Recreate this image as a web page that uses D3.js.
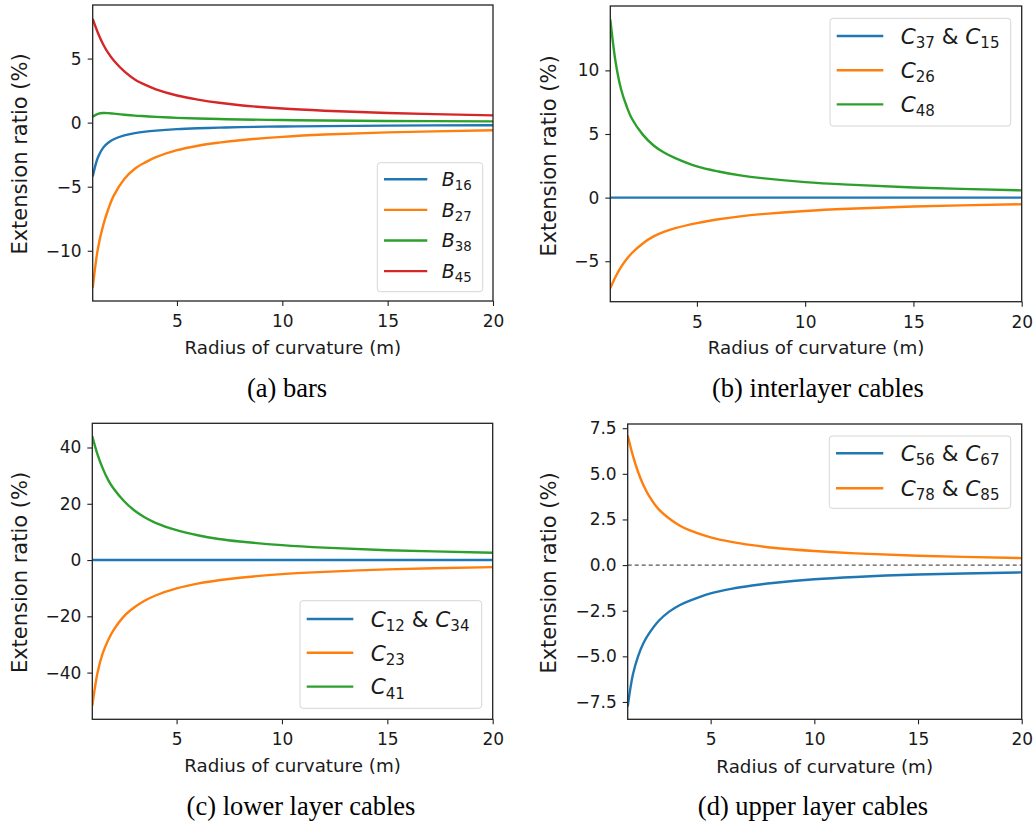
<!DOCTYPE html>
<html><head><meta charset="utf-8">
<script src="https://cdn.jsdelivr.net/npm/d3@7/dist/d3.min.js"></script>
<style>
body{margin:0;background:#fff;}
svg{display:block;}
text{font-family:"DejaVu Sans",sans-serif;fill:#1a1a1a;}
text.cap{font-family:"Liberation Serif","Times New Roman",serif;fill:#000;}
</style></head>
<body>
<svg id="chart" width="1036" height="826"></svg>
<script>
// ---- data ----
const radius = [1, 1.25, 1.5, 1.75, 2, 2.5, 3, 3.5, 4, 5, 6, 7, 8, 10, 12, 15, 20];

// (a) bars
const B16 = [-4.2, -2.7, -1.95, -1.55, -1.3, -1.0, -0.82, -0.7, -0.62, -0.51, -0.44, -0.39, -0.35, -0.3, -0.27, -0.23, -0.2];
const B27 = [-12.9, -9.8, -8.0, -6.7, -5.7, -4.4, -3.6, -3.1, -2.7, -2.15, -1.8, -1.56, -1.37, -1.11, -0.93, -0.76, -0.6];
const B38 = [0.45, 0.68, 0.75, 0.74, 0.7, 0.62, 0.55, 0.5, 0.45, 0.37, 0.32, 0.28, 0.25, 0.2, 0.17, 0.13, 0.1];
const B45 = [8.1, 7.0, 6.1, 5.4, 4.85, 4.0, 3.37, 2.94, 2.6, 2.12, 1.8, 1.55, 1.36, 1.1, 0.93, 0.75, 0.57];

// (b) interlayer cables
const C37_C15 = [0, 0, 0, 0, 0, 0, 0, 0, 0, 0, 0, 0, 0, 0, 0, 0, 0];
const C26 = [-7.12, -6.2, -5.45, -4.85, -4.35, -3.6, -3.05, -2.68, -2.4, -2.0, -1.7, -1.47, -1.3, -1.05, -0.88, -0.7, -0.52];
const C48 = [14.0, 10.6, 8.5, 7.2, 6.2, 4.95, 4.1, 3.52, 3.1, 2.45, 2.05, 1.75, 1.53, 1.22, 1.02, 0.8, 0.57];

// (c) lower layer cables
const C12_C34 = [0, 0, 0, 0, 0, 0, 0, 0, 0, 0, 0, 0, 0, 0, 0, 0, 0];
const C23 = [-51.8, -40, -33, -28.5, -25, -20, -16.8, -14.4, -12.6, -10.1, -8.4, -7.2, -6.3, -5.0, -4.2, -3.3, -2.5];
const C41 = [44, 37.5, 32.5, 28.5, 25.5, 21, 17.6, 15.1, 13.2, 10.6, 8.8, 7.5, 6.6, 5.3, 4.4, 3.5, 2.6];

// (d) upper layer cables
const C56_C67 = [-7.75, -6.0, -5.0, -4.3, -3.8, -3.05, -2.55, -2.2, -1.95, -1.55, -1.3, -1.12, -0.98, -0.78, -0.65, -0.52, -0.4];
const C78_C85 = [7.1, 6.0, 5.1, 4.4, 3.85, 3.05, 2.55, 2.17, 1.9, 1.52, 1.27, 1.09, 0.95, 0.77, 0.64, 0.51, 0.38];

const xTicks = [5, 10, 15, 20];
const yTicksA = [-10, -5, 0, 5];
const yTicksB = [-5, 0, 5, 10];
const yTicksC = [-40, -20, 0, 20, 40];
const yTicksD = [-7.5, -5.0, -2.5, 0.0, 2.5, 5.0, 7.5];

const captions = ["(a) bars", "(b) interlayer cables", "(c) lower layer cables", "(d) upper layer cables"];
const xLabel = "Radius of curvature (m)";
const yLabel = "Extension ratio (%)";
const colors = ["#1f77b4", "#ff7f0e", "#2ca02c", "#d62728"];

// legend labels: [letter, sub1, sub2?]
const legA = [["B","16"],["B","27"],["B","38"],["B","45"]];
const legB = [["C","37","15"],["C","26"],["C","48"]];
const legC = [["C","12","34"],["C","23"],["C","41"]];
const legD = [["C","56","67"],["C","78","85"]];

// ---- layout ----
const panels = [
  {x0:92.7, x1:493, y0:5, y1:301, ydom:[-13.92, 9.18], yt:yTicksA, fmt:d3.format("d"),
   series:[B16,B27,B38,B45], leg:legA, lbox:{x:377.3,y:162.7,w:105.4,h:129}, lrow0:179.3, lgap:30.6, lfs:19,
   lx1:6.7, lx2:50, ltx:64.4,
   ylx:20.7, yly:154, xly:349, cap:captions[0], capx:287, capy:397, zero:false},
  {x0:610.3, x1:1021.7, y0:6, y1:301.7, ydom:[-8.18, 15.06], yt:yTicksB, fmt:d3.format("d"),
   series:[C37_C15,C26,C48], leg:legB, lbox:{x:830,y:18.3,w:180.7,h:107.7}, lrow0:36, lgap:34.2, lfs:21.5,
   lx1:6.7, lx2:53.3, ltx:70.7,
   ylx:550, yly:156, xly:349, cap:captions[1], capx:818, capy:397, zero:false},
  {x0:92.3, x1:492.7, y0:423.3, y1:719.3, ydom:[-56.6, 48.6], yt:yTicksC, fmt:d3.format("d"),
   series:[C12_C34,C23,C41], leg:legC, lbox:{x:300,y:600.7,w:181.7,h:107.6}, lrow0:619, lgap:33.8, lfs:21.5,
   lx1:6.7, lx2:53.3, ltx:70.7,
   ylx:20.7, yly:572.5, xly:767, cap:captions[2], capx:301, capy:815, zero:false},
  {x0:627.7, x1:1021.7, y0:424, y1:719.3, ydom:[-8.45, 7.73], yt:yTicksD, fmt:d3.format(".1f"),
   series:[C56_C67,C78_C85], leg:legD, lbox:{x:829.3,y:436,w:181.4,h:72.3}, lrow0:453.3, lgap:35, lfs:21.5,
   lx1:6.7, lx2:54, ltx:71.4,
   ylx:550, yly:573, xly:768, cap:captions[3], capx:813, capy:815, zero:true}
];

const svg = d3.select("#chart");
const minus = s => s.replace("-", "\u2212");

panels.forEach((p, pi) => {
  const x = d3.scaleLinear().domain([1, 20]).range([p.x0, p.x1]);
  const y = d3.scaleLinear().domain(p.ydom).range([p.y1, p.y0]);
  const g = svg.append("g");
  const clipId = "clip" + pi;
  svg.append("clipPath").attr("id", clipId).append("rect")
    .attr("x", p.x0).attr("y", p.y0).attr("width", p.x1 - p.x0).attr("height", p.y1 - p.y0);

  if (p.zero) {
    g.append("line").attr("x1", p.x0).attr("x2", p.x1).attr("y1", y(0)).attr("y2", y(0))
      .attr("stroke", "#555").attr("stroke-width", 1.2).attr("stroke-dasharray", "4,3");
  }

  const line = d3.line().x((d, i) => x(radius[i])).y(d => y(d)).curve(d3.curveCatmullRom.alpha(0.5));
  p.series.forEach((s, i) => {
    g.append("path").datum(s).attr("d", line).attr("fill", "none")
      .attr("stroke", colors[i]).attr("stroke-width", 2.4).attr("clip-path", "url(#" + clipId + ")");
  });

  const xa = g.append("g").attr("transform", `translate(0,${p.y1})`)
    .call(d3.axisBottom(x).tickValues(xTicks).tickSize(5).tickPadding(5).tickFormat(d3.format("d")));
  const ya = g.append("g").attr("transform", `translate(${p.x0},0)`)
    .call(d3.axisLeft(y).tickValues(p.yt).tickSize(5).tickPadding(6).tickFormat(d => minus(p.fmt(d))));
  [xa, ya].forEach(a => {
    a.select(".domain").remove();
    a.selectAll("line").attr("stroke", "#222").attr("stroke-width", 1.1);
    a.selectAll("text").attr("font-size", 17).attr("fill", "#1a1a1a")
      .attr("font-family", "DejaVu Sans, sans-serif");
  });
  xa.selectAll("text").attr("dy", "0.95em");

  g.append("rect").attr("x", p.x0).attr("y", p.y0).attr("width", p.x1 - p.x0).attr("height", p.y1 - p.y0)
    .attr("fill", "none").attr("stroke", "#222").attr("stroke-width", 1.3);

  g.append("text").attr("x", (p.x0 + p.x1) / 2).attr("y", p.xly).attr("text-anchor", "middle")
    .attr("dominant-baseline", "middle").attr("font-size", 18.3).text(xLabel);
  g.append("text").attr("transform", `translate(${p.ylx},${p.yly}) rotate(-90)`)
    .attr("text-anchor", "middle").attr("dominant-baseline", "middle").attr("font-size", 21).text(yLabel);

  const lb = p.lbox;
  g.append("rect").attr("x", lb.x).attr("y", lb.y).attr("width", lb.w).attr("height", lb.h)
    .attr("rx", 3).attr("fill", "rgba(255,255,255,0.8)").attr("stroke", "#d6d6d6").attr("stroke-width", 1);
  p.leg.forEach((lab, i) => {
    const cy = p.lrow0 + i * p.lgap;
    g.append("line").attr("x1", lb.x + p.lx1).attr("x2", lb.x + p.lx2).attr("y1", cy).attr("y2", cy)
      .attr("stroke", colors[i]).attr("stroke-width", 2.4);
    const t = g.append("text").attr("x", lb.x + p.ltx).attr("y", cy + p.lfs * 0.36).attr("font-size", p.lfs);
    t.append("tspan").attr("font-style", "italic").text(lab[0]);
    t.append("tspan").attr("font-size", p.lfs * 0.7).attr("dy", p.lfs * 0.2).text(lab[1]);
    if (lab[2]) {
      t.append("tspan").attr("dy", -p.lfs * 0.2).text(" & ");
      t.append("tspan").attr("font-style", "italic").text(lab[0]);
      t.append("tspan").attr("font-size", p.lfs * 0.7).attr("dy", p.lfs * 0.2).text(lab[2]);
    }
  });

  svg.append("text").attr("class", "cap").attr("x", p.capx).attr("y", p.capy)
    .attr("text-anchor", "middle").attr("font-size", 26.5).text(p.cap);
});
</script>
</body></html>
